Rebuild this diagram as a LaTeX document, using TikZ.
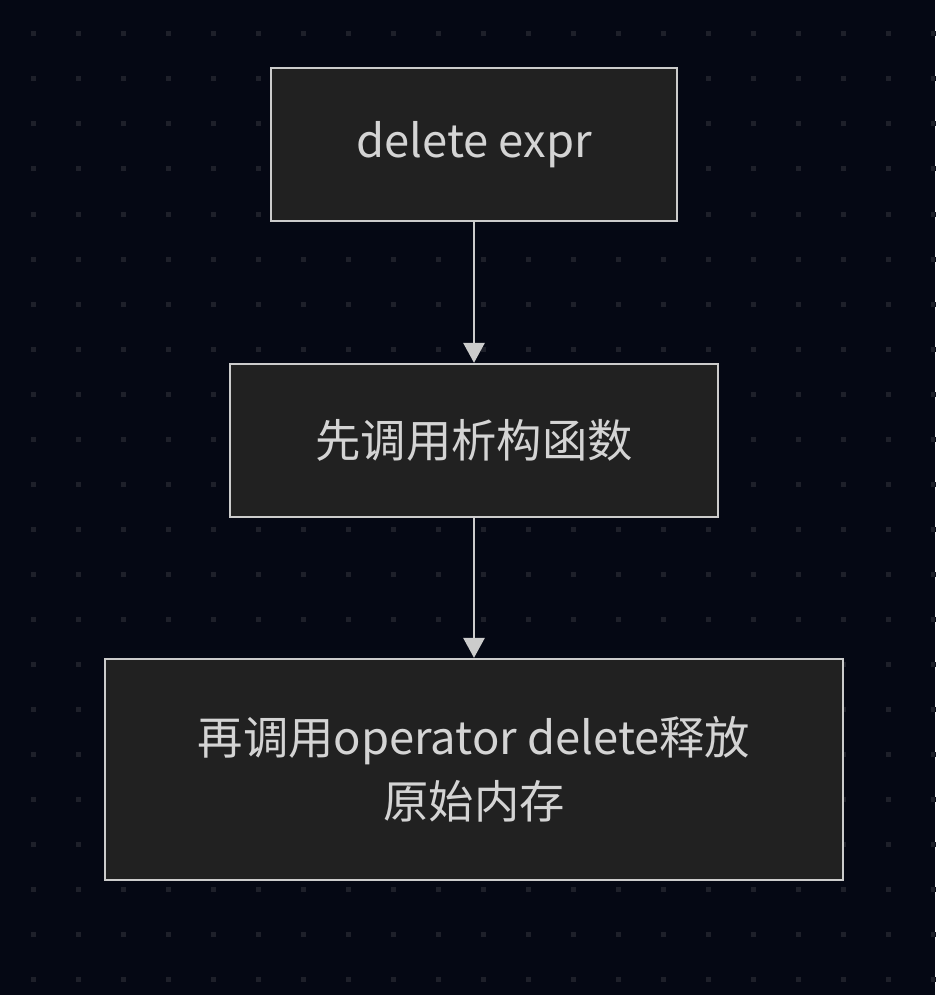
\documentclass[tikz,border=0pt]{standalone}
\usepackage{fontspec}
\setmainfont{Noto Sans CJK SC}
\usetikzlibrary{arrows.meta}

\definecolor{bgdark}{RGB}{5,8,20}
\definecolor{griddot}{RGB}{30,32,42}
\definecolor{boxfill}{RGB}{33,33,33}
\definecolor{boxline}{RGB}{204,204,204}
\definecolor{boxtext}{RGB}{212,212,212}

\tikzset{every picture/.style={line width=0.75pt}}
\tikzset{
  stepnode/.style={draw=boxline, fill=boxfill, line width=1.8pt, inner sep=0pt,
    text=boxtext, font=\fontsize{34}{48}\selectfont, align=center},
  flowarrow/.style={draw=boxline, line width=1.5pt,
    -{Triangle[length=15pt,width=16pt]}}
}

\begin{document}
\begin{tikzpicture}[x=0.75pt,y=0.75pt,yscale=-1,xscale=1]
%Background
\fill [bgdark] (0,0) rectangle (935,995);
\useasboundingbox (0,0) rectangle (935,995);
%Dot grid
\foreach \i in {0,...,20}
  \foreach \j in {0,...,21}
    \fill [griddot] ({33+45*\i-2.5},{34+45*\j-2.5}) rectangle ++(5,5);

%Shape: Rectangle [delete expr]
\node [stepnode, minimum width=304.5pt, minimum height=114.75pt] (expr) at (474,144.5) {delete expr};
%Shape: Rectangle [destructor]
\node [stepnode, minimum width=366pt, minimum height=114.75pt] (dtor) at (474,440.5) {先调用析构函数};
%Shape: Rectangle [operator delete]
\node [stepnode, minimum width=553.5pt, minimum height=165.75pt] (opdel) at (474,769.5) {再调用operator delete释放\\原始内存};

%Straight Lines
\draw [flowarrow] (expr) -- (dtor);
\draw [flowarrow] (dtor) -- (opdel);

\end{tikzpicture}
\end{document}
